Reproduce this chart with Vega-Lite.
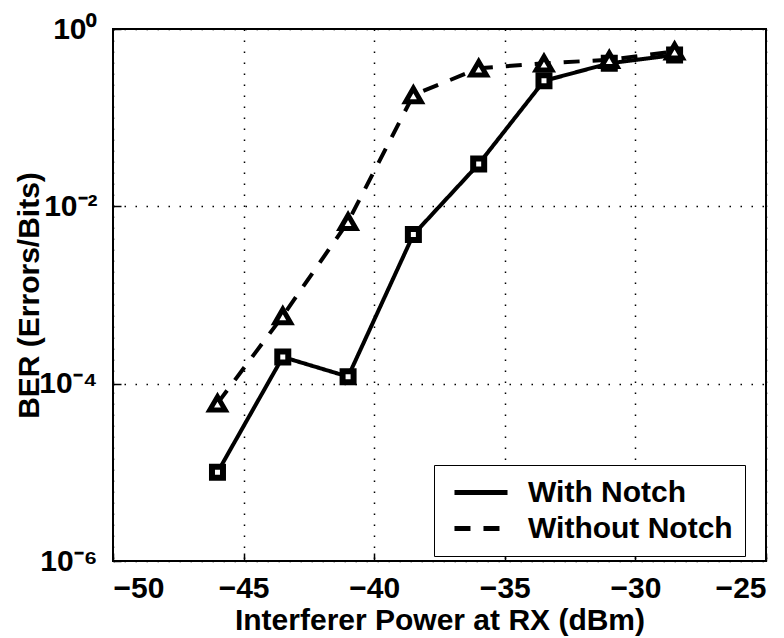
{
  "$schema": "https://vega.github.io/schema/vega-lite/v6.json",
  "autosize": "none",
  "width": 653,
  "height": 532,
  "padding": {"left": 113, "top": 29, "right": 18, "bottom": 77},
  "background": "white",
  "config": {
    "font": "Liberation Sans",
    "view": {"stroke": "black", "strokeWidth": 2},
    "axis": {
      "labelFont": "Liberation Sans", "labelFontWeight": "bold", "labelFontSize": 30, "labelColor": "black",
      "titleFont": "Liberation Sans", "titleFontWeight": "bold", "titleFontSize": 30, "titleColor": "black",
      "domain": false, "tickColor": "black", "tickSize": -8, "tickWidth": 1.5,
      "grid": true, "gridColor": "black", "gridDash": [1.5, 9.5], "gridWidth": 1.5, "gridOpacity": 1
    }
  },
  "data": {"values": [
    {"p": -46, "ber": 1.0e-5, "s": "With Notch"},
    {"p": -43.5, "ber": 2.0e-4, "s": "With Notch"},
    {"p": -41, "ber": 1.2e-4, "s": "With Notch"},
    {"p": -38.5, "ber": 4.8e-3, "s": "With Notch"},
    {"p": -36, "ber": 0.03, "s": "With Notch"},
    {"p": -33.5, "ber": 0.26, "s": "With Notch"},
    {"p": -31, "ber": 0.41, "s": "With Notch"},
    {"p": -28.5, "ber": 0.51, "s": "With Notch"},
    {"p": -46, "ber": 6.0e-5, "s": "Without Notch"},
    {"p": -43.5, "ber": 5.8e-4, "s": "Without Notch"},
    {"p": -41, "ber": 6.7e-3, "s": "Without Notch"},
    {"p": -38.5, "ber": 0.18, "s": "Without Notch"},
    {"p": -36, "ber": 0.36, "s": "Without Notch"},
    {"p": -33.5, "ber": 0.41, "s": "Without Notch"},
    {"p": -31, "ber": 0.45, "s": "Without Notch"},
    {"p": -28.5, "ber": 0.56, "s": "Without Notch"}
  ]},
  "encoding": {
    "x": {"field": "p", "type": "quantitative",
      "scale": {"domain": [-50, -25], "nice": false, "zero": false},
      "axis": {"values": [-50, -45, -40, -35, -30, -25], "format": "d", "title": "Interferer Power at RX (dBm)", "labelPadding": 20, "titlePadding": 2}},
    "y": {"field": "ber", "type": "quantitative",
      "scale": {"type": "log", "domain": [1e-6, 1], "nice": false},
      "axis": {"values": [1, 0.01, 0.0001, 0.000001],
        "labelExpr": "datum.value >= 0.5 ? '10⁰' : datum.value >= 0.005 ? '10⁻²' : datum.value >= 0.00005 ? '10⁻⁴' : '10⁻⁶'",
        "title": "BER (Errors/Bits)", "labelPadding": 24, "titlePadding": -6}}
  },
  "layer": [
    {
      "mark": {"type": "line", "strokeWidth": 4, "color": "black"},
      "encoding": {
        "strokeDash": {"field": "s", "type": "nominal",
          "scale": {"domain": ["With Notch", "Without Notch"], "range": [[1, 0], [16, 13]]},
          "legend": {"title": null, "orient": "none", "legendX": 321, "legendY": 436,
            "fillColor": "white", "strokeColor": "black", "padding": 12,
            "symbolType": "M-0.54,0H3.54", "symbolStrokeWidth": 5, "symbolSize": 676, "symbolStrokeColor": "black",
            "labelFont": "Liberation Sans", "labelFontWeight": "bold", "labelFontSize": 30, "labelColor": "black", "labelLimit": 0,
            "rowPadding": 5, "labelOffset": 51}}
      }
    },
    {
      "transform": [{"filter": "datum.s == 'With Notch'"}],
      "mark": {"type": "point", "shape": "square", "filled": false, "fill": "white", "stroke": "black", "strokeWidth": 6, "size": 121, "opacity": 1}
    },
    {
      "transform": [{"filter": "datum.s == 'Without Notch'"}],
      "mark": {"type": "point", "shape": "triangle-up", "filled": false, "fill": "white", "stroke": "black", "strokeWidth": 5, "size": 240, "opacity": 1}
    }
  ]
}
